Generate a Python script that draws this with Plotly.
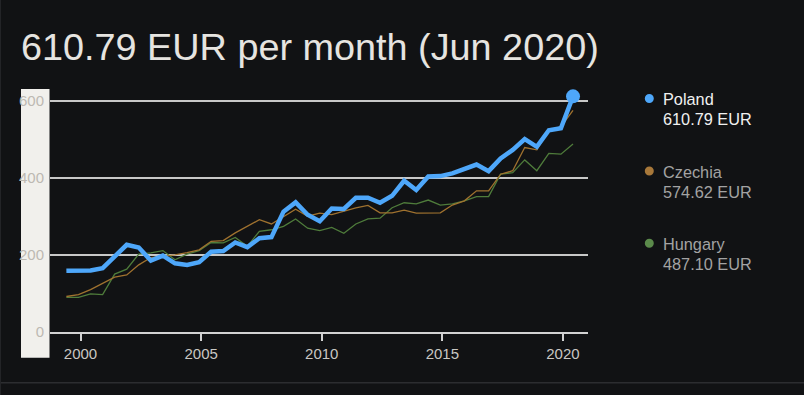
import plotly.graph_objects as go

dates = [
    "1999-06-01", "1999-12-01", "2000-06-01", "2000-12-01", "2001-06-01", "2001-12-01",
    "2002-06-01", "2002-12-01", "2003-06-01", "2003-12-01", "2004-06-01", "2004-12-01",
    "2005-06-01", "2005-12-01", "2006-06-01", "2006-12-01", "2007-06-01", "2007-12-01",
    "2008-06-01", "2008-12-01", "2009-06-01", "2009-12-01", "2010-06-01", "2010-12-01",
    "2011-06-01", "2011-12-01", "2012-06-01", "2012-12-01", "2013-06-01", "2013-12-01",
    "2014-06-01", "2014-12-01", "2015-06-01", "2015-12-01", "2016-06-01", "2016-12-01",
    "2017-06-01", "2017-12-01", "2018-06-01", "2018-12-01", "2019-06-01", "2019-12-01",
    "2020-06-01",
]

poland = [158.6, 159.5, 159.5, 165.5, 196, 226, 219, 185, 198, 178, 174, 181, 208, 210,
          232, 220, 243, 246, 312, 336, 304, 287, 320, 319, 348, 348, 335, 353, 392, 368,
          403, 404, 411, 423, 434, 417, 450, 472, 500, 480, 523, 528, 610.79]
czechia = [92, 97, 110, 127, 142, 148, 174, 193, 196, 200, 206, 213, 235, 237, 257, 274,
           291, 280, 300, 318, 300, 308, 304, 314, 322, 328, 309, 309, 316, 308, 309, 309,
           329, 340, 366, 366, 409, 418, 478, 472, 523, 532, 574.62]
hungary = [90, 90, 99, 97, 150, 163, 202, 205, 211, 187, 202, 211, 232, 231, 245, 222,
           261, 265, 274, 293, 269, 263, 271, 256, 280, 293, 295, 322, 335, 332, 342, 329,
           332, 340, 351, 351, 409, 413, 446, 418, 463, 461, 487.10]

series_names = ["Poland", "Czechia", "Hungary"]
y_ticks = [0, 200, 400, 600]
x_ticks = ["2000-01-01", "2005-01-01", "2010-01-01", "2015-01-01", "2020-01-01"]
x_tick_labels = ["2000", "2005", "2010", "2015", "2020"]
title_text = "610.79 EUR per month (Jun 2020)"

BG = "#111214"
C_PL = "#4ea7fa"
C_CZ = "#a0722f"
C_HU = "#4f7c3b"
FONT = "Liberation Sans, Arial, sans-serif"

fig = go.Figure()
fig.add_trace(go.Scatter(x=dates, y=hungary, mode="lines", name=series_names[2],
                         line=dict(color=C_HU, width=1.3), hoverinfo="skip"))
fig.add_trace(go.Scatter(x=dates, y=czechia, mode="lines", name=series_names[1],
                         line=dict(color=C_CZ, width=1.3), hoverinfo="skip"))
fig.add_trace(go.Scatter(x=dates, y=poland, mode="lines", name=series_names[0],
                         line=dict(color=C_PL, width=4.5), hoverinfo="skip"))
fig.add_trace(go.Scatter(x=[dates[-1]], y=[poland[-1]], mode="markers",
                         marker=dict(color=C_PL, size=14), hoverinfo="skip"))

L, R, T, B = 50, 216, 88, 63
W, H = 804, 395
pw = W - L - R
ph = H - T - B

def px(x):
    return (x - L) / pw

def py(y):
    return (H - B - y) / ph

shapes = [
    # white y-axis band
    dict(type="rect", xref="paper", yref="paper", x0=px(21), x1=px(49.5),
         y0=py(357.7), y1=py(89), fillcolor="#f1f0ec", line=dict(width=0), layer="below"),
    # separator line
    dict(type="line", xref="paper", yref="paper", x0=px(0), x1=px(804),
         y0=py(382.7), y1=py(382.7), line=dict(color="#2c2d30", width=1.5)),
    dict(type="line", xref="paper", yref="paper", x0=px(0.5), x1=px(0.5),
         y0=py(0), y1=py(395), line=dict(color="#232427", width=1)),
]

annotations = []
legend_rows = [
    (series_names[0], poland[-1], C_PL, "#f0f0f0", 98.5, 99.3, 119.3),
    (series_names[1], czechia[-1], "#a8783a", "#a3a3a3", 171, 172.3, 192.3),
    (series_names[2], hungary[-1], "#5b8a4b", "#a3a3a3", 243.3, 244.3, 264.3),
]
for name, val, dot_c, txt_c, dy, y1, y2 in legend_rows:
    shapes.append(dict(type="circle", xref="paper", yref="paper",
                       xsizemode="pixel", ysizemode="pixel",
                       xanchor=px(649.3), yanchor=py(dy),
                       x0=-4.5, x1=4.5, y0=-4.5, y1=4.5,
                       fillcolor=dot_c, line=dict(width=0)))
    annotations.append(dict(xref="paper", yref="paper", x=px(661), y=py(y1),
                            xanchor="left", yanchor="middle", showarrow=False,
                            text=name, font=dict(family=FONT, size=16.3, color=txt_c)))
    annotations.append(dict(xref="paper", yref="paper", x=px(661), y=py(y2),
                            xanchor="left", yanchor="middle", showarrow=False,
                            text=f"{val:.2f} EUR", font=dict(family=FONT, size=16.3, color=txt_c)))

fig.update_layout(
    width=W, height=H,
    margin=dict(l=L, r=R, t=T, b=B, pad=0),
    paper_bgcolor=BG, plot_bgcolor=BG,
    showlegend=False,
    title=dict(text=title_text, xref="container", yref="container",
               x=21 / W, xanchor="left", y=1 - 47 / H, yanchor="middle",
               font=dict(family=FONT, size=37.8, color="#e6e4e0")),
    shapes=shapes,
    annotations=annotations,
    xaxis=dict(
        type="date",
        range=["1998-09-26", "2021-01-14"],
        tickvals=x_ticks, ticktext=x_tick_labels,
        showgrid=False, zeroline=False,
        showline=True, linecolor="#d2d2d2", linewidth=1.5,
        ticks="outside", ticklen=7, tickwidth=1.5, tickcolor="#d2d2d2",
        tickfont=dict(family=FONT, size=15, color="#c9c7c3"),
        fixedrange=True,
    ),
    yaxis=dict(
        range=[0, 632.4],
        tickvals=y_ticks,
        showgrid=True, gridcolor="#c8c8c8", gridwidth=1.5,
        zeroline=False, showline=False,
        ticks="", ticklabelstandoff=5,
        tickfont=dict(family=FONT, size=15, color="#bdb9b2"),
        fixedrange=True,
    ),
)

fig.write_html(
    "out.html",
    config={"displayModeBar": False},
    post_script="document.body.style.margin='0';document.body.style.background='%s';"
                "document.documentElement.style.background='%s';" % (BG, BG),
)
